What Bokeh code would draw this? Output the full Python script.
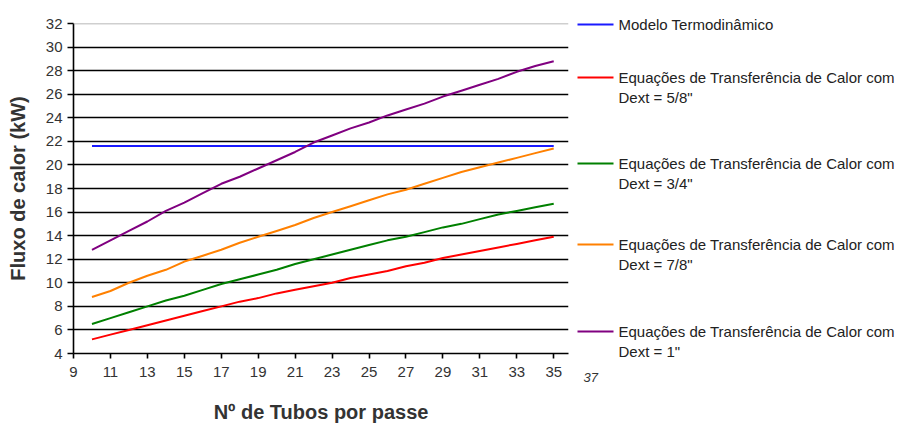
from bokeh.plotting import figure
from bokeh.layouts import row
from bokeh.models import Range1d, FixedTicker, Span
from bokeh.core.properties import value
from bokeh.embed import file_html
from bokeh.resources import INLINE

# ---- data ----
tubos = list(range(10, 36))
modelo_termo = [21.6] * len(tubos)
dext_5_8 = [5.2, 5.6, 6.0, 6.4, 6.8, 7.2, 7.6, 8.0, 8.4, 8.7, 9.1, 9.4, 9.7,
            10.0, 10.4, 10.7, 11.0, 11.4, 11.7, 12.1, 12.4, 12.7, 13.0, 13.3, 13.6, 13.9]
dext_3_4 = [6.5, 7.0, 7.5, 8.0, 8.5, 8.9, 9.4, 9.9, 10.3, 10.7, 11.1, 11.6, 12.0,
            12.4, 12.8, 13.2, 13.6, 13.9, 14.3, 14.7, 15.0, 15.4, 15.8, 16.1, 16.4, 16.7]
dext_7_8 = [8.8, 9.3, 10.0, 10.6, 11.1, 11.8, 12.3, 12.8, 13.4, 13.9, 14.4, 14.9, 15.5,
            16.0, 16.5, 17.0, 17.5, 17.9, 18.4, 18.9, 19.4, 19.8, 20.2, 20.6, 21.0, 21.4]
dext_1 = [12.8, 13.6, 14.4, 15.2, 16.1, 16.8, 17.6, 18.4, 19.0, 19.7, 20.4, 21.1, 21.9,
          22.5, 23.1, 23.6, 24.2, 24.7, 25.2, 25.8, 26.3, 26.8, 27.3, 27.9, 28.4, 28.8]

x_ticks = list(range(9, 36, 2))
y_ticks = list(range(4, 33, 2))

series_labels = [
    "Modelo Termodinâmico",
    "Equações de Transferência de Calor com\nDext = 5/8\"",
    "Equações de Transferência de Calor com\nDext = 3/4\"",
    "Equações de Transferência de Calor com\nDext = 7/8\"",
    "Equações de Transferência de Calor com\nDext = 1\"",
]
series_values = [modelo_termo, dext_5_8, dext_3_4, dext_7_8, dext_1]
series_colors = ["#1a1aff", "#ff0000", "#008000", "#ff8000", "#800080"]

FONT = "Liberation Sans"

# ---- layout (pixels) ----
H = 426
FL, FT, FR, FB = 73, 23, 568, 353
MAIN_W = FR + 5
LEG_W = 330

p = figure(width=MAIN_W, height=H, output_backend="svg", toolbar_location=None,
           x_range=Range1d(9, 35.8), y_range=Range1d(4, 32),
           min_border_left=FL, min_border_top=FT, min_border_right=MAIN_W - FR,
           min_border_bottom=H - FB)
p.frame_align = False
p.outline_line_color = None
p.xgrid.visible = False
p.ygrid.ticker = FixedTicker(ticks=y_ticks[1:-1])
p.ygrid.grid_line_color = "black"
p.ygrid.grid_line_width = 1.6
p.add_layout(Span(location=32, dimension="width", line_color="#a0a0a0", line_width=1.6))

for ax in (p.xaxis, p.yaxis):
    ax.axis_line_color = "black"
    ax.axis_line_width = 1.6
    ax.major_tick_line_color = "black"
    ax.major_tick_line_width = 1.6
    ax.major_tick_in = 0
    ax.minor_tick_line_color = None
    ax.major_label_text_font = FONT
    ax.major_label_text_font_size = "15px"
    ax.major_label_text_color = "#333333"
    ax.axis_label_text_font = FONT
    ax.axis_label_text_font_style = "bold"
    ax.axis_label_text_font_size = "20px"
    ax.axis_label_text_color = "#333333"

p.xaxis.ticker = FixedTicker(ticks=x_ticks)
p.yaxis.ticker = FixedTicker(ticks=y_ticks)
p.xaxis.major_tick_out = 5
p.yaxis.major_tick_out = 6
p.xaxis.major_label_standoff = 8
p.yaxis.major_label_standoff = 5
p.xaxis.axis_label = "Nº de Tubos por passe"
p.yaxis.axis_label = "Fluxo de calor (kW)"
p.xaxis.axis_label_standoff = 21
p.yaxis.axis_label_standoff = 14

for vals, col in zip(series_values, series_colors):
    p.line(tubos, vals, line_color=col, line_width=2)

# ---- legend panel (coordinates in page pixels) ----
lg = figure(width=LEG_W, height=H, output_backend="svg", toolbar_location=None,
            x_range=Range1d(MAIN_W, MAIN_W + LEG_W), y_range=Range1d(H, 0),
            min_border=0)
lg.frame_align = False
lg.outline_line_color = None
lg.axis.visible = False
lg.grid.visible = False

entry_py = [24, 77, 163, 244, 331]
for lab, col, py in zip(series_labels, series_colors, entry_py):
    lg.line([577, 613], [py, py], line_color=col, line_width=2)
    for i, t in enumerate(lab.split("\n")):
        lg.text([618], [py + i * 20], text=[t], text_font=value(FONT),
                text_font_size="15px", text_color="#222222",
                text_baseline="middle", text_align="left")

lg.text([583], [377], text=["37"], text_font=value(FONT), text_font_size="13px",
        text_font_style="italic", text_color="#333333",
        text_baseline="middle", text_align="left")

layout = row(p, lg)
open("out.html", "w").write(file_html(layout, INLINE))
